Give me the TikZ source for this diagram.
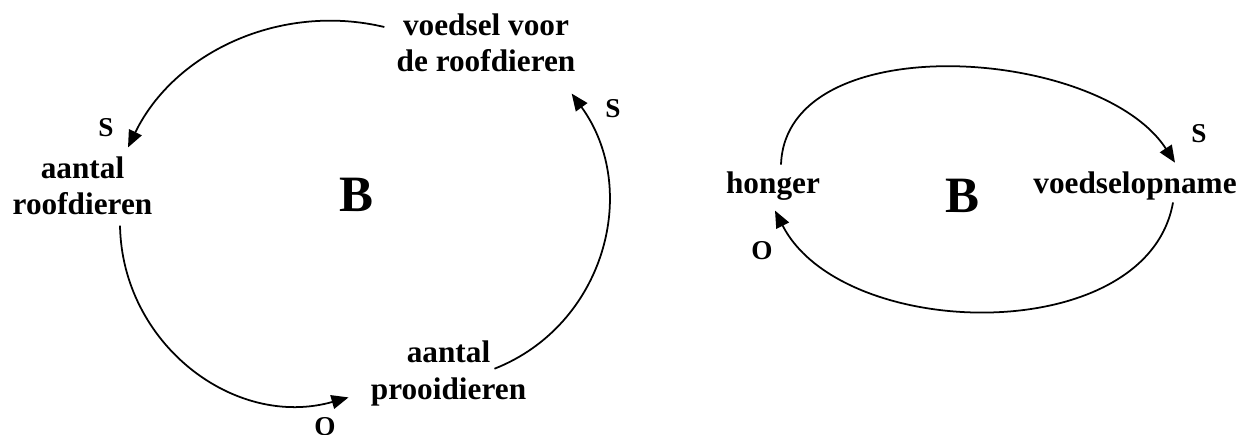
\documentclass[tikz,border=0pt]{standalone}
\usepackage{fontspec}
\setmainfont{Liberation Serif}
\usetikzlibrary{arrows.meta}

\begin{document}
\begin{tikzpicture}[x=0.02cm, y=0.02cm,
    factor/.style={font=\fontsize{17.8}{21}\selectfont\bfseries, align=center, inner sep=0pt},
    pol/.style={font=\fontsize{15.5}{18}\selectfont\bfseries, inner sep=0pt},
    loopname/.style={font=\fontsize{29}{32}\selectfont\bfseries, inner sep=0pt},
    link/.style={line width=1pt, -{Triangle[length=0.34cm, width=0.28cm]}}]
    \useasboundingbox (0,0) rectangle (1253,-434);

    % Left loop: factors
    \node[factor] (vrd) at (486,-42.75) {voedsel voor\\de roofdieren};
    \node[factor] (roof) at (82.5,-185.75) {aantal\\roofdieren};
    \node[factor] (prooi) at (448.5,-373.2) {aantal\\prooidieren};
    \node[loopname] (loopA) at (356.5,-194.5) {B};

    % Left loop: links
    \draw[link] ([shift={(-12,15.75)}]vrd.west) to[out=166.6, in=64.1, looseness=0.96] ([shift={(45.5,8.5)}]roof.north);
    \draw[link] ([shift={(37.5,-10)}]roof.south) to[out=-89, in=195.8, looseness=1.06] ([shift={(-22,8.8)}]prooi.south west);
    \draw[link] ([shift={(-32,-28.5)}]prooi.north east) to[out=21.5, in=-54, looseness=1.06] ([shift={(-4,-21)}]vrd.south east);

    % Left loop: signs
    \node[pol] (s1) at (106,-127.5) {S};
    \node[pol] (s2) at (613,-109) {S};
    \node[pol] (o1) at (325,-427) {O};

    % Right loop: factors
    \node[factor] (honger) at (773,-185.7) {honger};
    \node[factor] (opname) at (1135,-185.7) {voedselopname};
    \node[loopname] (loopB) at (962,-195.7) {B};

    % Right loop: links
    \draw[link] ([shift={(8,6.5)}]honger.north) to[out=88, in=123, looseness=0.9] ([shift={(40,8.5)}]opname.north);
    \draw[link] ([shift={(38,-2.2)}]opname.south) to[out=-100, in=-63, looseness=0.95] ([shift={(2,-10.2)}]honger.south);

    % Right loop: signs
    \node[pol] (s3) at (1199,-134) {S};
    \node[pol] (o2) at (762,-251) {O};
\end{tikzpicture}
\end{document}
